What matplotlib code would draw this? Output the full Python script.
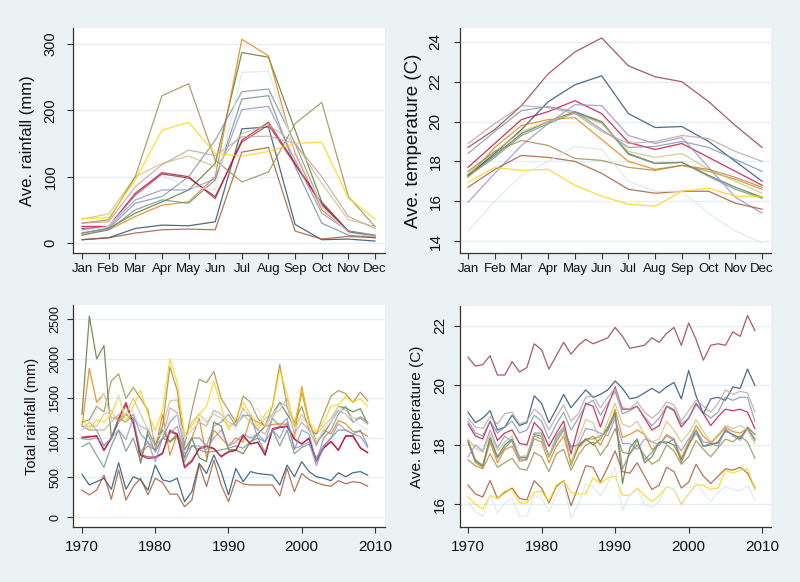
import matplotlib
matplotlib.use("Agg")
import matplotlib.pyplot as plt

# ---------------- data ----------------
months = ["Jan", "Feb", "Mar", "Apr", "May", "Jun", "Jul", "Aug", "Sep", "Oct", "Nov", "Dec"]
years = list(range(1970, 2010))

series_names = ["navy", "maroon", "forest_green", "dkorange", "teal", "cranberry", "lavender",
                "khaki", "sienna", "emidblue", "brown", "erose", "gold", "bluishgray"]
series_colors = ["#1a476f", "#90353b", "#55752f", "#e37e00", "#6e8e84", "#c10534", "#938dd2",
                 "#cac27e", "#a0522d", "#7b92a8", "#9c8847", "#bfa19c", "#ffd200", "#d9e6eb"]

# monthly average rainfall (mm)
rain_m_navy = [5, 8, 22, 27, 26, 32, 172, 175, 28, 5, 6, 3]
rain_m_maroon = [22, 24, 72, 104, 98, 70, 152, 178, 118, 58, 17, 9]
rain_m_forest = [15, 22, 45, 62, 80, 120, 287, 280, 170, 62, 18, 10]
rain_m_dkorange = [12, 20, 40, 57, 62, 100, 307, 282, 135, 50, 18, 8]
rain_m_teal = [12, 20, 50, 65, 60, 95, 217, 222, 115, 30, 12, 8]
rain_m_cranberry = [25, 25, 75, 106, 100, 67, 155, 182, 120, 60, 18, 10]
rain_m_lavender = [20, 25, 65, 80, 80, 97, 201, 206, 125, 45, 18, 12]
rain_m_khaki = [36, 44, 100, 120, 131, 115, 165, 178, 150, 90, 35, 25]
rain_m_sienna = [5, 8, 15, 20, 21, 20, 137, 144, 18, 6, 10, 8]
rain_m_emidblue = [15, 22, 60, 70, 100, 155, 228, 232, 150, 55, 18, 12]
rain_m_brown = [30, 35, 100, 222, 240, 125, 92, 107, 180, 212, 70, 25]
rain_m_erose = [30, 32, 85, 118, 140, 132, 160, 161, 150, 100, 40, 22]
rain_m_gold = [37, 38, 95, 170, 182, 135, 131, 138, 150, 152, 68, 36]
rain_m_bluishgray = [18, 25, 70, 102, 85, 80, 257, 259, 140, 55, 15, 10]

# monthly average temperature (C)
temp_m_navy = [17.3, 18.4, 19.6, 21.0, 21.85, 22.3, 20.4, 19.7, 19.75, 19.0, 18.0, 17.0]
temp_m_maroon = [18.7, 19.6, 20.8, 22.4, 23.5, 24.2, 22.8, 22.25, 22.0, 21.0, 19.8, 18.7]
temp_m_forest = [17.3, 18.3, 19.4, 20.0, 20.5, 20.0, 18.4, 17.9, 17.95, 17.3, 16.7, 16.2]
temp_m_dkorange = [17.2, 18.7, 19.8, 20.1, 20.2, 19.1, 18.0, 17.6, 17.8, 17.5, 17.1, 16.6]
temp_m_teal = [17.25, 18.2, 19.3, 19.9, 20.45, 19.95, 18.35, 17.9, 17.95, 17.25, 16.6, 16.15]
temp_m_cranberry = [17.7, 18.9, 20.1, 20.5, 21.05, 20.4, 18.95, 18.6, 18.9, 18.2, 17.5, 16.8]
temp_m_lavender = [15.95, 17.4, 18.8, 19.9, 20.85, 20.8, 19.3, 18.9, 19.2, 17.7, 16.2, 15.4]
temp_m_khaki = [17.4, 18.5, 19.5, 20.0, 20.4, 19.9, 18.5, 18.2, 18.4, 17.6, 17.0, 16.4]
temp_m_sienna = [16.7, 17.6, 18.3, 18.2, 18.0, 17.4, 16.6, 16.4, 16.5, 16.5, 15.9, 15.6]
temp_m_emidblue = [18.4, 19.5, 20.55, 20.75, 20.5, 19.6, 18.7, 18.75, 19.0, 18.7, 18.1, 17.5]
temp_m_brown = [17.5, 18.5, 19.05, 18.8, 18.15, 18.05, 17.7, 17.55, 17.8, 17.6, 17.2, 16.7]
temp_m_erose = [18.9, 19.9, 20.8, 20.7, 20.4, 19.5, 18.9, 19.0, 19.3, 19.15, 18.5, 18.0]
temp_m_gold = [16.95, 17.7, 17.55, 17.6, 16.8, 16.25, 15.85, 15.75, 16.5, 16.65, 16.25, 16.25]
temp_m_bluishgray = [14.5, 16.0, 17.3, 18.0, 18.75, 18.6, 17.0, 16.5, 16.5, 15.4, 14.5, 13.9]

# yearly total rainfall (mm), 1970-2009
rain_y_navy = [540, 405, 447, 490, 350, 687, 350, 510, 468, 340,
               657, 470, 447, 490, 195, 320, 680, 550, 785, 575,
               280, 615, 447, 575, 550, 540, 530, 405, 657, 510,
               700, 575, 510, 490, 460, 560, 510, 560, 575, 530]
rain_y_maroon = [1000, 1010, 1030, 850, 990, 1230, 1420, 1180, 790, 760,
                 760, 810, 1080, 1040, 640, 720, 860, 890, 860, 770,
                 830, 850, 1020, 930, 940, 790, 1100, 1130, 1140, 980,
                 930, 990, 710, 870, 950, 850, 1020, 1020, 870, 820]
rain_y_forest = [1300, 2540, 2000, 2170, 1000, 1200, 1300, 1250, 680, 1100,
                 900, 1100, 950, 1050, 750, 1000, 750, 700, 1200, 1150,
                 850, 850, 800, 950, 1050, 1150, 1300, 1450, 1300, 1150,
                 1580, 1200, 950, 1050, 1200, 1400, 1380, 1330, 1370, 1180]
rain_y_dkorange = [1150, 1880, 1450, 1560, 1250, 1250, 1300, 1200, 800, 900,
                   850, 1300, 780, 1050, 850, 1000, 1250, 750, 1100, 1000,
                   900, 1000, 950, 1250, 1200, 1150, 1170, 1180, 1170, 1000,
                   1650, 1200, 920, 1100, 1050, 1220, 1180, 1080, 1080, 1020]
rain_y_teal = [890, 940, 780, 630, 900, 1100, 830, 1000, 700, 1050,
               820, 1000, 950, 1020, 700, 900, 850, 820, 830, 850,
               870, 900, 870, 950, 1000, 820, 1100, 900, 1100, 800,
               880, 920, 750, 900, 1000, 1100, 1100, 1050, 1100, 900]
rain_y_cranberry = [1010, 1020, 1020, 840, 1000, 1250, 1450, 1200, 780, 740,
                    750, 800, 1100, 1050, 620, 700, 870, 900, 870, 760,
                    820, 840, 1040, 920, 950, 780, 1120, 1140, 1150, 990,
                    920, 1000, 700, 880, 960, 840, 1030, 1030, 880, 810]
rain_y_lavender = [990, 980, 1000, 900, 1000, 1100, 980, 1250, 820, 950,
                   700, 1000, 1050, 1150, 800, 900, 900, 850, 1000, 1100,
                   900, 950, 1050, 1000, 1050, 950, 1100, 1000, 1200, 870,
                   900, 950, 650, 900, 1000, 1180, 1100, 1050, 1020, 880]
rain_y_khaki = [1150, 1150, 1150, 1300, 1350, 1200, 1300, 1500, 1300, 1100,
                900, 1150, 1470, 1480, 1000, 1200, 1300, 1200, 1300, 1250,
                1150, 1200, 1300, 1200, 1100, 1250, 1300, 1350, 1500, 1100,
                1300, 1150, 1050, 1150, 1250, 1400, 1350, 1250, 1250, 1200]
rain_y_sienna = [340, 280, 340, 530, 225, 595, 215, 385, 490, 280,
                 490, 435, 290, 290, 130, 215, 660, 385, 720, 405,
                 195, 470, 420, 405, 405, 405, 405, 265, 615, 320,
                 550, 475, 435, 405, 390, 460, 420, 447, 435, 390]
rain_y_emidblue = [1150, 1100, 1100, 900, 1000, 1250, 1200, 1300, 1050, 950,
                   850, 1000, 1200, 1300, 850, 1000, 1000, 900, 1150, 1200,
                   1300, 1150, 1280, 1290, 1000, 950, 1250, 1150, 1250, 850,
                   1100, 1050, 700, 1000, 1100, 1300, 1400, 1200, 1270, 1200]
rain_y_brown = [1200, 1230, 1400, 1330, 1720, 1810, 1500, 1640, 1500, 1350,
                900, 1150, 1900, 1600, 900, 1350, 1740, 1700, 1840, 1500,
                1350, 1200, 1530, 1450, 1250, 1150, 1400, 1930, 1400, 1200,
                1400, 1100, 1050, 1300, 1530, 1600, 1560, 1450, 1580, 1470]
rain_y_erose = [1100, 1200, 1100, 1100, 1200, 1300, 1300, 1250, 1150, 1100,
                900, 1000, 1380, 1320, 1000, 1100, 1200, 1150, 1350, 1300,
                1200, 1150, 1380, 1250, 1100, 1050, 1250, 1450, 1400, 1050,
                1200, 1100, 900, 1100, 1200, 1350, 1300, 1200, 1250, 1180]
rain_y_gold = [1250, 1100, 1230, 1200, 1300, 1530, 1200, 1400, 1600, 1300,
               1100, 1350, 2000, 1700, 1050, 1150, 1300, 1400, 1720, 1400,
               1100, 1250, 1450, 1300, 1150, 1300, 1400, 1860, 1550, 1150,
               1600, 1200, 1080, 1200, 1400, 1420, 1520, 1450, 1500, 1400]
rain_y_bluishgray = [1100, 1200, 1350, 1580, 1200, 1550, 1250, 1350, 1100, 1150,
                     1000, 1050, 1250, 1300, 1000, 1100, 1200, 1250, 1300, 1350,
                     1200, 1100, 1350, 1300, 1380, 1150, 1300, 1400, 1450, 1100,
                     1250, 1150, 950, 1100, 1200, 1400, 1300, 1250, 1150, 1100]

# yearly average temperature (C), 1970-2009
temp_y_navy = [19.1, 18.75, 18.9, 19.15, 18.5, 18.6, 19.0, 18.65, 18.75, 19.65,
               19.4, 18.75, 19.2, 19.7, 19.25, 19.55, 19.85, 19.6, 19.7, 19.85,
               20.15, 19.9, 19.55, 19.6, 19.75, 19.9, 19.75, 19.95, 20.1, 19.55,
               20.5, 19.65, 19.05, 19.55, 19.6, 19.5, 19.95, 19.9, 20.55, 20.0]
temp_y_maroon = [20.95, 20.65, 20.7, 21.0, 20.35, 20.35, 20.8, 20.45, 20.6, 21.4,
                 21.2, 20.55, 21.0, 21.45, 21.05, 21.35, 21.55, 21.4, 21.5, 21.6,
                 21.95, 21.65, 21.25, 21.3, 21.35, 21.6, 21.45, 21.75, 21.95, 21.35,
                 22.1, 21.55, 20.85, 21.35, 21.4, 21.35, 21.8, 21.65, 22.35, 21.85]
temp_y_forest = [18.15, 17.5, 17.3, 18.25, 17.6, 18.0, 18.2, 17.6, 17.55, 18.35,
                 18.3, 17.6, 18.2, 18.6, 17.3, 17.95, 18.2, 18.0, 18.2, 18.6,
                 19.1, 16.7, 17.9, 18.2, 17.4, 17.6, 18.1, 18.1, 18.0, 17.5,
                 18.0, 18.5, 17.95, 18.0, 18.1, 18.5, 18.35, 18.2, 18.6, 18.35]
temp_y_dkorange = [18.1, 17.4, 17.25, 18.1, 17.4, 17.85, 17.95, 17.45, 17.5, 18.2,
                   18.1, 17.4, 17.95, 18.3, 17.4, 17.9, 18.15, 18.3, 18.0, 18.5,
                   19.2, 18.25, 18.35, 18.5, 18.35, 17.85, 18.0, 18.35, 18.2, 17.55,
                   18.1, 18.65, 18.3, 18.05, 18.3, 18.6, 18.45, 18.4, 18.55, 18.2]
temp_y_teal = [18.1, 17.45, 17.3, 18.2, 17.55, 17.9, 18.15, 17.55, 17.6, 18.4,
               18.4, 17.6, 18.1, 18.5, 17.95, 18.0, 18.2, 18.2, 18.3, 18.5,
               19.0, 17.2, 17.7, 18.15, 17.5, 17.75, 18.1, 18.05, 18.2, 17.4,
               18.0, 18.4, 17.95, 18.05, 18.05, 18.45, 18.35, 18.25, 18.55, 18.15]
temp_y_cranberry = [18.7, 18.3, 18.2, 18.8, 18.15, 18.4, 18.5, 18.05, 18.0, 18.75,
                    18.5, 17.95, 18.4, 18.8, 17.7, 18.6, 19.4, 19.3, 18.6, 19.3,
                    19.95, 19.2, 19.2, 19.3, 18.9, 18.5, 18.65, 19.3, 19.15, 18.6,
                    18.9, 19.4, 19.05, 18.65, 18.95, 19.2, 19.15, 19.2, 19.1, 18.55]
temp_y_lavender = [17.6, 18.0, 17.8, 18.5, 17.9, 18.3, 18.1, 17.5, 17.5, 18.3,
                   18.2, 17.6, 18.3, 18.6, 17.9, 18.0, 18.55, 18.5, 18.4, 18.3,
                   18.9, 18.05, 18.05, 17.85, 18.2, 18.1, 18.0, 18.3, 18.15, 17.8,
                   18.2, 18.5, 18.1, 18.05, 17.95, 18.55, 18.3, 18.15, 18.55, 18.2]
temp_y_khaki = [18.2, 17.9, 17.75, 18.35, 17.8, 18.1, 18.3, 17.6, 17.65, 18.4,
                18.3, 17.6, 18.2, 18.6, 17.3, 18.2, 18.85, 18.75, 18.15, 18.8,
                19.4, 18.7, 18.6, 18.8, 18.35, 18.1, 18.2, 18.8, 18.5, 18.1,
                18.4, 18.85, 18.45, 18.1, 18.35, 18.65, 18.55, 18.65, 18.5, 18.05]
temp_y_sienna = [16.65, 16.35, 16.25, 16.8, 16.2, 16.4, 16.55, 16.2, 16.15, 16.8,
                 16.55, 16.05, 16.6, 16.8, 15.95, 16.6, 17.3, 17.25, 16.75, 17.25,
                 17.8, 17.1, 17.05, 17.4, 16.95, 16.5, 16.65, 17.25, 17.1, 16.55,
                 16.75, 17.35, 16.95, 16.7, 16.95, 17.2, 17.15, 17.25, 17.05, 16.55]
temp_y_emidblue = [18.8, 18.4, 18.3, 18.8, 18.4, 18.6, 18.8, 18.4, 18.5, 19.0,
                   18.8, 18.2, 18.7, 19.1, 18.5, 18.9, 19.35, 19.5, 19.0, 19.4,
                   19.8, 19.05, 19.15, 19.3, 18.95, 18.65, 18.9, 19.3, 19.2, 18.7,
                   18.9, 19.35, 19.1, 18.9, 19.1, 19.6, 19.5, 19.6, 19.6, 18.8]
temp_y_brown = [17.5, 17.3, 17.2, 17.7, 17.25, 17.4, 17.55, 17.2, 17.15, 17.75,
                17.6, 17.1, 17.7, 17.85, 17.15, 17.65, 18.0, 18.1, 17.65, 18.0,
                18.55, 17.75, 17.7, 18.0, 17.65, 17.35, 17.5, 18.0, 17.8, 17.35,
                17.6, 18.15, 17.85, 17.6, 17.9, 18.2, 18.1, 18.3, 18.1, 17.55]
temp_y_erose = [18.9, 18.6, 18.55, 18.95, 18.7, 19.05, 19.1, 18.7, 18.8, 19.2,
                19.0, 18.5, 18.95, 19.35, 18.8, 19.05, 19.6, 19.65, 19.25, 19.6,
                19.9, 19.25, 19.2, 19.45, 19.1, 18.9, 19.1, 19.45, 19.35, 18.8,
                19.15, 19.5, 19.3, 19.1, 19.4, 19.85, 19.7, 19.8, 19.75, 19.1]
temp_y_gold = [16.25, 16.0, 15.85, 16.3, 16.2, 16.45, 16.5, 16.05, 16.05, 16.4,
               16.45, 16.1, 16.65, 16.8, 16.4, 16.35, 16.35, 16.9, 16.7, 16.9,
               16.95, 16.3, 16.3, 16.55, 16.3, 16.1, 16.3, 16.6, 16.5, 16.0,
               16.35, 16.65, 16.65, 16.5, 16.55, 17.15, 17.05, 17.15, 17.2, 16.5]
temp_y_bluishgray = [16.1, 15.75, 15.6, 16.3, 15.7, 16.05, 16.2, 15.6, 15.6, 16.3,
                     16.2, 15.75, 16.3, 16.75, 15.55, 16.0, 16.7, 16.6, 16.3, 16.7,
                     17.25, 15.8, 16.3, 16.5, 16.0, 15.9, 16.1, 16.6, 16.5, 16.05,
                     16.35, 16.75, 16.4, 16.1, 16.4, 16.6, 16.5, 16.45, 16.65, 16.15]

rain_monthly = [rain_m_navy, rain_m_maroon, rain_m_forest, rain_m_dkorange, rain_m_teal,
                rain_m_cranberry, rain_m_lavender, rain_m_khaki, rain_m_sienna, rain_m_emidblue,
                rain_m_brown, rain_m_erose, rain_m_gold, rain_m_bluishgray]
temp_monthly = [temp_m_navy, temp_m_maroon, temp_m_forest, temp_m_dkorange, temp_m_teal,
                temp_m_cranberry, temp_m_lavender, temp_m_khaki, temp_m_sienna, temp_m_emidblue,
                temp_m_brown, temp_m_erose, temp_m_gold, temp_m_bluishgray]
rain_yearly = [rain_y_navy, rain_y_maroon, rain_y_forest, rain_y_dkorange, rain_y_teal,
               rain_y_cranberry, rain_y_lavender, rain_y_khaki, rain_y_sienna, rain_y_emidblue,
               rain_y_brown, rain_y_erose, rain_y_gold, rain_y_bluishgray]
temp_yearly = [temp_y_navy, temp_y_maroon, temp_y_forest, temp_y_dkorange, temp_y_teal,
               temp_y_cranberry, temp_y_lavender, temp_y_khaki, temp_y_sienna, temp_y_emidblue,
               temp_y_brown, temp_y_erose, temp_y_gold, temp_y_bluishgray]

# ---------------- style ----------------
BG = "#eaf2f3"
plt.rcParams["font.family"] = ["Liberation Sans", "DejaVu Sans"]

fig = plt.figure(figsize=(8.0, 5.82), dpi=100, facecolor=BG)

month_x = list(range(1, 13))
LW = 0.9
ALPHA = 0.8


def style_axes(ax, yticks, ylabel, xticks, xticklabels, xsize, ysize, ypad, xpad,
               labsize, labpad):
    ax.set_facecolor("white")
    for s in ["top", "right"]:
        ax.spines[s].set_visible(False)
    for s in ["left", "bottom"]:
        ax.spines[s].set_color("#333333")
        ax.spines[s].set_linewidth(0.9)
    ax.set_yticks(yticks)
    ax.set_yticklabels([str(t) for t in yticks], rotation=90, va="center")
    ax.set_xticks(xticks)
    ax.set_xticklabels(xticklabels)
    ax.tick_params(axis="both", direction="out", length=4.5, width=0.8, color="#333333",
                   labelcolor="#111111")
    ax.tick_params(axis="x", labelsize=xsize, pad=xpad)
    ax.tick_params(axis="y", labelsize=ysize, pad=ypad)
    ax.grid(axis="y", color="#e6eef0", linewidth=1.0)
    ax.set_axisbelow(True)
    ax.set_ylabel(ylabel, fontsize=labsize, color="#111111", labelpad=labpad)


# Panel 1: monthly rainfall
ax1 = fig.add_axes([0.09125, 0.5653, 0.39, 0.3866])
for vals, c in zip(rain_monthly, series_colors):
    ax1.plot(month_x, vals, color=c, lw=LW, alpha=ALPHA)
ax1.set_xlim(0.66, 12.375)
ax1.set_ylim(-15, 324)
style_axes(ax1, [0, 100, 200, 300], "Ave. rainfall (mm)", month_x, months,
           9.5, 10.5, 6.5, 3.0, 12, 6)

# Panel 2: monthly temperature
ax2 = fig.add_axes([0.575, 0.5653, 0.389, 0.3866])
for vals, c in zip(temp_monthly, series_colors):
    ax2.plot(month_x, vals, color=c, lw=LW, alpha=ALPHA)
ax2.set_xlim(0.7, 12.34)
ax2.set_ylim(13.4, 24.7)
style_axes(ax2, [14, 16, 18, 20, 22, 24], "Ave. temperature (C)", month_x, months,
           9.5, 11, 8, 3.0, 13.5, 5)

# Panel 3: yearly total rainfall
ax3 = fig.add_axes([0.09125, 0.0945, 0.39, 0.3814])
for vals, c in zip(rain_yearly, series_colors):
    ax3.plot(years, vals, color=c, lw=LW, alpha=ALPHA)
ax3.set_xlim(1968.77, 2011.37)
ax3.set_ylim(-126, 2681)
style_axes(ax3, [0, 500, 1000, 1500, 2000, 2500], "Total rainfall (mm)",
           [1970, 1980, 1990, 2000, 2010], ["1970", "1980", "1990", "2000", "2010"],
           11, 9, 4, 5, 10.5, 7)

# Panel 4: yearly temperature
ax4 = fig.add_axes([0.575, 0.0945, 0.389, 0.3797])
for vals, c in zip(temp_yearly, series_colors):
    ax4.plot(years, vals, color=c, lw=LW, alpha=ALPHA)
ax4.set_xlim(1968.91, 2011.22)
ax4.set_ylim(15.24, 22.67)
style_axes(ax4, [16, 18, 20, 22], "Ave. temperature (C)",
           [1970, 1980, 1990, 2000, 2010], ["1970", "1980", "1990", "2000", "2010"],
           11, 11, 5, 5, 11, 6)

fig.savefig("out.png", dpi=100, facecolor=BG)
